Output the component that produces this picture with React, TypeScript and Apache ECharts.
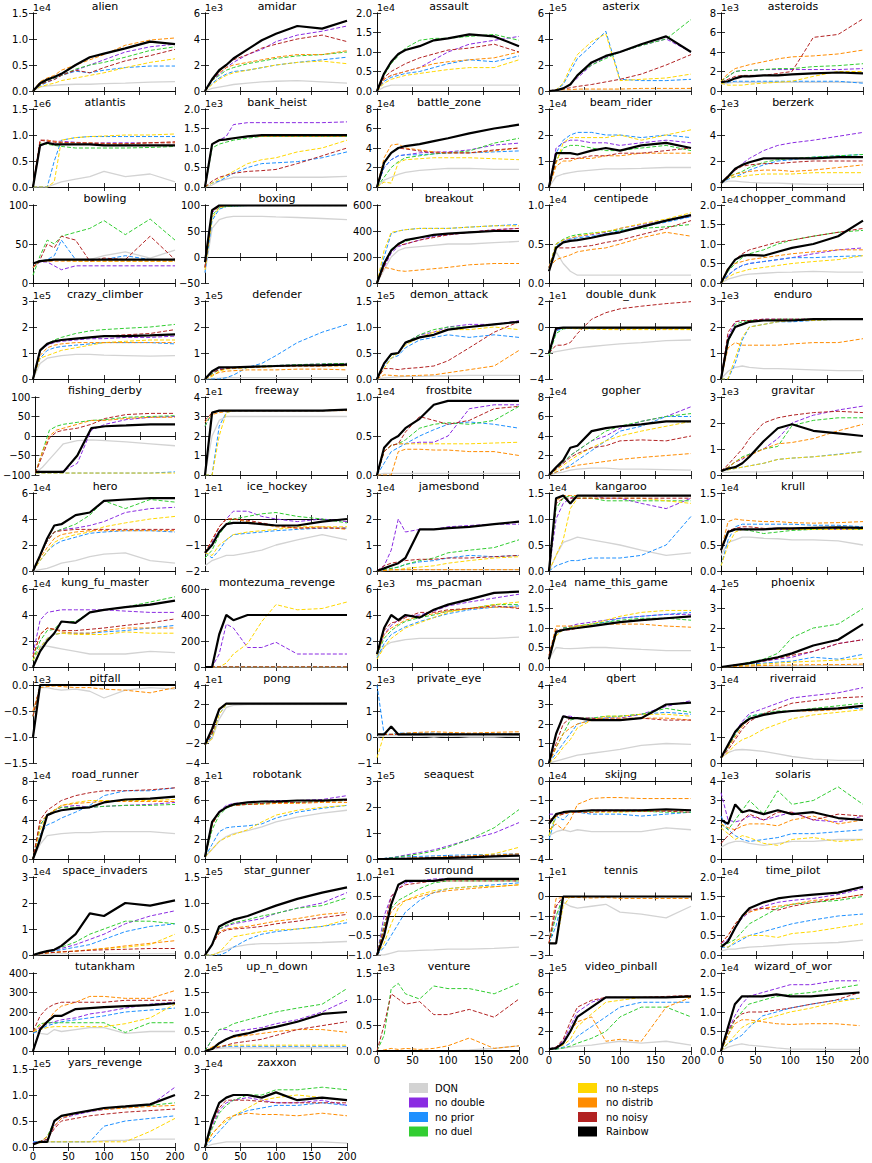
import React, { useEffect, useRef } from 'react';
import * as echarts from 'echarts';

const FONT = 'DejaVu Sans';
const X = [0, 10, 20, 30, 40, 60, 80, 100, 130, 165, 200];
const SERIES = ['DQN', 'no double', 'no prior', 'no duel', 'no n-steps', 'no distrib', 'no noisy', 'Rainbow'];
const COLORS = ['#d3d3d3', '#8a2be2', '#1e90ff', '#32cd32', '#ffd700', '#ff8c00', '#b22222', '#000000'];

// series order in every game: DQN, no double, no prior, no duel, no n-steps, no distrib, no noisy, Rainbow
const alien = [
  [0, 0.08, 0.1, 0.11, 0.12, 0.13, 0.13, 0.14, 0.15, 0.17, 0.18],
  [0, 0.12, 0.2, 0.25, 0.32, 0.4, 0.5, 0.6, 0.75, 0.85, 0.9],
  [0, 0.1, 0.17, 0.22, 0.3, 0.38, 0.35, 0.4, 0.45, 0.48, 0.48],
  [0, 0.12, 0.2, 0.25, 0.3, 0.42, 0.5, 0.55, 0.65, 0.78, 0.85],
  [0, 0.08, 0.12, 0.15, 0.2, 0.25, 0.3, 0.35, 0.45, 0.55, 0.62],
  [0, 0.18, 0.25, 0.3, 0.4, 0.5, 0.6, 0.7, 0.88, 0.98, 1.02],
  [0, 0.12, 0.18, 0.22, 0.3, 0.4, 0.35, 0.45, 0.58, 0.68, 0.8],
  [0, 0.15, 0.22, 0.27, 0.33, 0.5, 0.65, 0.72, 0.82, 0.95, 0.9],
];
const amidar = [
  [0, 0.2, 0.3, 0.4, 0.5, 0.6, 0.7, 0.75, 0.8, 0.7, 0.6],
  [0, 0.8, 1.3, 1.8, 2.2, 2.8, 3.2, 3.8, 4.3, 4.6, 5.0],
  [0, 0.6, 1.0, 1.3, 1.5, 1.6, 1.8, 2.0, 2.2, 2.4, 2.6],
  [0, 0.8, 1.2, 1.6, 1.8, 2.1, 2.3, 2.5, 2.7, 2.8, 3.0],
  [0, 0.5, 0.9, 1.2, 1.4, 1.6, 1.8, 2.0, 2.2, 2.3, 2.1],
  [0, 0.9, 1.4, 1.8, 2.0, 2.2, 2.4, 2.6, 2.8, 2.8, 3.1],
  [0, 0.8, 1.5, 2.0, 2.4, 2.8, 3.3, 3.6, 4.0, 4.3, 3.8],
  [0, 0.9, 1.6, 2.0, 2.5, 3.2, 3.9, 4.4, 5.0, 4.8, 5.4],
];
const assault = [
  [0, 0.1, 0.15, 0.15, 0.15, 0.15, 0.15, 0.15, 0.15, 0.15, 0.15],
  [0, 0.3, 0.4, 0.45, 0.5, 0.6, 0.8, 1.0, 1.2, 1.3, 1.4],
  [0, 0.25, 0.35, 0.4, 0.45, 0.5, 0.6, 0.7, 0.8, 0.75, 0.9],
  [0, 0.4, 0.7, 0.9, 1.1, 1.3, 1.35, 1.35, 1.4, 1.45, 1.3],
  [0, 0.2, 0.3, 0.35, 0.4, 0.45, 0.5, 0.55, 0.6, 0.6, 0.8],
  [0, 0.3, 0.4, 0.45, 0.5, 0.6, 0.7, 0.75, 0.8, 0.85, 1.0],
  [0, 0.35, 0.5, 0.6, 0.7, 0.85, 0.95, 1.05, 1.1, 1.2, 1.0],
  [0, 0.45, 0.75, 0.95, 1.05, 1.15, 1.3, 1.35, 1.45, 1.4, 1.15],
];
const asterix = [
  [0, 0.02, 0.05, 0.05, 0.05, 0.05, 0.05, 0.05, 0.05, 0.05, 0.05],
  [0, 0, 0.2, 0.5, 1.0, 2.0, 2.6, 3.0, 3.5, 4.0, 3.0],
  [0, 0.1, 0.5, 1.5, 2.5, 3.5, 4.6, 0.9, 0.8, 0.8, 0.9],
  [0, 0, 0.2, 0.5, 1.2, 2.0, 2.5, 3.0, 3.5, 4.0, 5.5],
  [0, 0.1, 0.6, 1.8, 2.8, 3.8, 4.4, 0.8, 0.9, 1.0, 1.3],
  [0, 0.05, 0.1, 0.1, 0.15, 0.15, 0.15, 0.15, 0.2, 0.2, 0.2],
  [0, 0.1, 0.15, 0.25, 0.35, 0.5, 0.7, 0.9, 1.3, 2.0, 2.8],
  [0, 0.05, 0.2, 0.5, 1.2, 2.2, 2.7, 3.0, 3.6, 4.2, 3.0],
];
const asteroids = [
  [0.7, 0.8, 0.9, 0.9, 0.9, 0.9, 0.9, 0.9, 0.9, 0.9, 0.9],
  [1.0, 1.5, 2.0, 2.1, 2.1, 2.2, 2.2, 2.2, 2.2, 2.2, 2.3],
  [0.8, 0.9, 1.0, 1.0, 1.0, 1.0, 1.0, 1.0, 1.0, 1.0, 0.8],
  [1.0, 1.5, 2.0, 2.1, 2.1, 2.2, 2.3, 2.3, 2.5, 2.6, 2.8],
  [0.8, 0.6, 0.6, 0.6, 0.7, 0.8, 0.9, 1.0, 1.5, 2.0, 2.0],
  [1.0, 1.8, 2.3, 2.5, 2.7, 3.0, 3.3, 3.5, 3.6, 3.8, 4.2],
  [0.9, 1.2, 1.5, 1.6, 1.6, 1.6, 1.8, 2.0, 5.5, 5.8, 7.4],
  [0.9, 1.0, 1.3, 1.5, 1.5, 1.6, 1.6, 1.7, 1.8, 1.9, 1.8],
];
const atlantis = [
  [0, 0, 0, 0.05, 0.1, 0.15, 0.2, 0.3, 0.2, 0.25, 0.1],
  [0, 0.9, 0.9, 0.88, 0.88, 0.86, 0.85, 0.85, 0.85, 0.85, 0.85],
  [0, 0, 0, 0.5, 0.9, 0.95, 0.97, 0.97, 0.97, 0.97, 0.97],
  [0, 0.85, 0.82, 0.8, 0.78, 0.75, 0.75, 0.75, 0.75, 0.76, 0.78],
  [0, 0, 0, 0.1, 0.9, 0.95, 0.97, 0.98, 1.0, 1.0, 1.02],
  [0, 0.9, 0.9, 0.88, 0.86, 0.85, 0.85, 0.84, 0.83, 0.85, 0.85],
  [0, 0.9, 0.88, 0.86, 0.85, 0.85, 0.84, 0.83, 0.83, 0.85, 0.87],
  [0, 0.8, 0.85, 0.82, 0.82, 0.82, 0.82, 0.8, 0.8, 0.8, 0.8],
];
const bank_heist = [
  [0, 0.05, 0.15, 0.2, 0.25, 0.25, 0.25, 0.25, 0.25, 0.25, 0.27],
  [0, 1.1, 1.2, 1.3, 1.6, 1.65, 1.65, 1.65, 1.65, 1.65, 1.67],
  [0, 0.1, 0.15, 0.25, 0.35, 0.5, 0.6, 0.62, 0.65, 0.75, 0.9],
  [0, 1.0, 1.1, 1.15, 1.2, 1.25, 1.3, 1.3, 1.3, 1.3, 1.3],
  [0, 0.1, 0.2, 0.3, 0.4, 0.6, 0.7, 0.75, 0.9, 1.0, 1.2],
  [0, 1.1, 1.2, 1.22, 1.25, 1.3, 1.3, 1.3, 1.3, 1.3, 1.3],
  [0, 0.15, 0.25, 0.3, 0.35, 0.4, 0.42, 0.45, 0.6, 0.8, 1.0],
  [0, 1.1, 1.2, 1.22, 1.25, 1.3, 1.33, 1.33, 1.33, 1.33, 1.33],
];
const battle_zone = [
  [0, 0.7, 1.0, 1.3, 1.5, 1.7, 1.8, 1.9, 1.9, 1.8, 1.8],
  [0, 2.0, 2.8, 3.2, 3.3, 3.5, 3.6, 3.6, 3.8, 4.3, 4.5],
  [0, 2.0, 2.8, 3.2, 3.3, 3.3, 3.4, 3.5, 3.5, 3.6, 3.7],
  [0, 1.0, 2.0, 2.6, 3.0, 3.2, 3.4, 3.5, 3.7, 4.5, 5.0],
  [0, 0.5, 0.4, 2.5, 2.8, 2.9, 3.0, 3.0, 3.0, 2.9, 2.8],
  [0, 3.0, 4.3, 4.4, 4.0, 3.8, 3.6, 3.5, 3.5, 3.7, 4.0],
  [0, 2.5, 3.5, 4.0, 3.9, 3.7, 3.5, 3.5, 3.5, 3.8, 4.0],
  [0, 2.5, 3.5, 4.0, 4.2, 4.4, 4.7, 5.0, 5.5, 6.0, 6.4],
];
const beam_rider = [
  [0, 0.4, 0.5, 0.55, 0.6, 0.65, 0.7, 0.7, 0.72, 0.75, 0.75],
  [0, 1.5, 1.7, 1.8, 1.8, 1.7, 1.7, 1.6, 1.7, 1.8, 1.7],
  [0, 1.3, 1.8, 2.0, 2.1, 2.1, 2.0, 2.0, 1.9, 2.0, 1.9],
  [0, 1.0, 1.5, 1.6, 1.6, 1.5, 1.4, 1.4, 1.5, 1.6, 1.4],
  [0, 0.9, 1.7, 1.9, 1.9, 1.9, 1.9, 2.0, 1.8, 2.0, 2.2],
  [0, 0.8, 1.0, 1.0, 1.1, 1.1, 1.2, 1.2, 1.3, 1.3, 1.3],
  [0, 1.0, 1.1, 1.1, 1.1, 1.2, 1.2, 1.3, 1.3, 1.4, 1.5],
  [0, 1.3, 1.3, 1.3, 1.25, 1.4, 1.5, 1.4, 1.6, 1.7, 1.5],
];
const berzerk = [
  [0.3, 0.45, 0.45, 0.4, 0.35, 0.3, 0.3, 0.25, 0.2, 0.2, 0.2],
  [0.3, 0.8, 1.3, 1.8, 2.2, 2.8, 3.2, 3.4, 3.6, 3.9, 4.2],
  [0.3, 0.6, 0.8, 1.0, 1.3, 1.7, 2.0, 2.1, 2.3, 2.4, 2.5],
  [0.3, 0.8, 1.0, 1.2, 1.5, 1.9, 2.1, 2.2, 2.3, 2.4, 2.5],
  [0.3, 0.7, 0.8, 0.8, 0.9, 1.0, 1.0, 1.0, 1.1, 1.1, 1.1],
  [0.3, 0.7, 1.0, 1.1, 1.2, 1.3, 1.3, 1.2, 1.3, 1.5, 1.7],
  [0.3, 0.9, 1.3, 1.6, 1.7, 1.8, 1.8, 1.9, 2.0, 2.0, 2.0],
  [0.3, 0.8, 1.4, 1.7, 1.9, 2.2, 2.2, 2.2, 2.2, 2.3, 2.3],
];
const bowling = [
  [20, 28, 30, 30, 30, 30, 30, 35, 40, 32, 42],
  [20, 27, 27, 22, 17, 22, 22, 22, 22, 22, 22],
  [20, 28, 30, 35, 55, 30, 30, 30, 35, 30, 30],
  [10, 35, 55, 50, 60, 65, 70, 80, 62, 82, 55],
  [20, 28, 28, 30, 30, 28, 28, 28, 28, 28, 28],
  [20, 28, 28, 28, 28, 28, 28, 28, 28, 28, 28],
  [20, 30, 50, 45, 60, 55, 28, 32, 30, 60, 30],
  [25, 28, 29, 30, 30, 30, 30, 30, 30, 30, 30],
];
const boxing = [
  [-30, 55, 72, 76, 78, 78, 78, 77, 76, 74, 72],
  [-20, 85, 97, 99, 99, 99, 99, 99, 99, 99, 99],
  [-30, 70, 92, 97, 98, 99, 99, 99, 99, 99, 99],
  [-20, 80, 95, 97, 98, 99, 99, 99, 99, 99, 99],
  [-25, 75, 95, 98, 99, 99, 99, 99, 99, 99, 99],
  [-20, 88, 97, 99, 99, 99, 99, 99, 99, 99, 99],
  [-20, 88, 98, 99, 99, 99, 99, 99, 99, 99, 99],
  [-10, 90, 99, 99, 99, 99, 99, 99, 99, 99, 99],
];
const breakout = [
  [0, 100, 200, 250, 270, 280, 290, 300, 300, 310, 320],
  [0, 120, 230, 280, 300, 330, 360, 370, 390, 410, 420],
  [0, 200, 380, 400, 410, 420, 420, 420, 430, 440, 450],
  [0, 150, 260, 300, 320, 350, 370, 380, 390, 400, 400],
  [0, 250, 390, 400, 410, 420, 420, 420, 430, 440, 440],
  [0, 120, 110, 95, 90, 100, 110, 120, 140, 150, 150],
  [0, 130, 250, 290, 300, 330, 350, 370, 390, 410, 420],
  [0, 150, 250, 300, 330, 350, 370, 380, 390, 400, 400],
];
const centipede = [
  [0.15, 0.4, 0.25, 0.15, 0.1, 0.1, 0.1, 0.1, 0.1, 0.1, 0.1],
  [0.2, 0.5, 0.55, 0.57, 0.6, 0.62, 0.65, 0.7, 0.75, 0.8, 0.85],
  [0.2, 0.48, 0.53, 0.56, 0.58, 0.6, 0.63, 0.67, 0.72, 0.78, 0.85],
  [0.2, 0.5, 0.56, 0.6, 0.62, 0.64, 0.66, 0.68, 0.7, 0.72, 0.75],
  [0.2, 0.5, 0.55, 0.58, 0.6, 0.63, 0.66, 0.7, 0.76, 0.82, 0.9],
  [0.2, 0.3, 0.33, 0.36, 0.4, 0.43, 0.45, 0.5, 0.58, 0.65, 0.6],
  [0.2, 0.45, 0.45, 0.45, 0.46, 0.48, 0.52, 0.55, 0.62, 0.7, 0.8],
  [0.15, 0.45, 0.52, 0.54, 0.55, 0.58, 0.62, 0.65, 0.72, 0.8, 0.87],
];
const chopper_command = [
  [0, 0.1, 0.15, 0.2, 0.23, 0.25, 0.27, 0.28, 0.3, 0.28, 0.28],
  [0, 0.2, 0.35, 0.45, 0.5, 0.55, 0.6, 0.65, 0.75, 0.85, 0.9],
  [0, 0.2, 0.35, 0.45, 0.5, 0.55, 0.6, 0.65, 0.65, 0.68, 0.7],
  [0, 0.3, 0.5, 0.65, 0.75, 0.85, 1.0, 1.1, 1.2, 1.3, 1.35],
  [0, 0.15, 0.25, 0.3, 0.35, 0.4, 0.45, 0.5, 0.55, 0.6, 0.7],
  [0, 0.4, 0.5, 0.55, 0.6, 0.65, 0.7, 0.75, 0.8, 0.85, 0.85],
  [0, 0.35, 0.6, 0.75, 0.85, 0.95, 1.05, 1.1, 1.2, 1.3, 1.4],
  [0, 0.35, 0.6, 0.7, 0.72, 0.7, 0.8, 0.9, 1.0, 1.2, 1.6],
];
const crazy_climber = [
  [0, 0.6, 0.8, 0.85, 0.9, 0.95, 0.95, 0.92, 0.9, 0.88, 0.9],
  [0, 1.1, 1.3, 1.4, 1.45, 1.5, 1.55, 1.55, 1.6, 1.6, 1.65],
  [0, 0.8, 1.1, 1.2, 1.25, 1.3, 1.35, 1.4, 1.4, 1.4, 1.35],
  [0, 1.1, 1.35, 1.5, 1.6, 1.75, 1.85, 1.9, 1.95, 2.0, 2.1],
  [0, 0.8, 0.9, 1.0, 1.1, 1.2, 1.3, 1.4, 1.45, 1.5, 1.5],
  [0, 0.9, 1.2, 1.3, 1.35, 1.4, 1.4, 1.4, 1.4, 1.4, 1.4],
  [0, 1.1, 1.35, 1.45, 1.5, 1.55, 1.6, 1.65, 1.7, 1.75, 1.9],
  [0, 1.1, 1.35, 1.45, 1.5, 1.55, 1.6, 1.65, 1.65, 1.68, 1.72],
];
const defender = [
  [0, 0.02, 0.03, 0.05, 0.05, 0.05, 0.05, 0.05, 0.05, 0.05, 0.05],
  [0, 0.2, 0.4, 0.45, 0.45, 0.47, 0.5, 0.52, 0.55, 0.58, 0.6],
  [0, 0, 0, 0.05, 0.15, 0.45, 0.6, 0.9, 1.4, 1.8, 2.1],
  [0, 0.2, 0.35, 0.4, 0.45, 0.47, 0.5, 0.52, 0.55, 0.58, 0.6],
  [0, 0.1, 0.3, 0.38, 0.4, 0.43, 0.45, 0.48, 0.5, 0.5, 0.5],
  [0, 0.15, 0.25, 0.3, 0.32, 0.35, 0.35, 0.35, 0.38, 0.38, 0.35],
  [0, 0.25, 0.35, 0.4, 0.42, 0.45, 0.47, 0.48, 0.5, 0.5, 0.52],
  [0, 0.3, 0.45, 0.45, 0.45, 0.47, 0.48, 0.5, 0.52, 0.53, 0.55],
];
const demon_attack = [
  [0, 0.02, 0.03, 0.04, 0.05, 0.05, 0.06, 0.06, 0.07, 0.07, 0.07],
  [0, 0.3, 0.45, 0.5, 0.7, 0.85, 0.9, 1.0, 1.05, 1.05, 1.12],
  [0, 0.25, 0.4, 0.45, 0.6, 0.75, 0.8, 0.85, 0.8, 0.85, 0.8],
  [0, 0.3, 0.45, 0.5, 0.7, 0.85, 0.95, 1.0, 1.0, 1.05, 1.1],
  [0, 0.2, 0.4, 0.5, 0.65, 0.8, 0.9, 0.95, 0.95, 1.0, 0.95],
  [0, 0.08, 0.07, 0.06, 0.06, 0.07, 0.08, 0.12, 0.18, 0.25, 0.55],
  [0, 0.2, 0.2, 0.18, 0.2, 0.22, 0.25, 0.35, 0.6, 0.9, 1.1],
  [0, 0.3, 0.48, 0.5, 0.7, 0.8, 0.85, 0.95, 1.0, 1.05, 1.1],
];
const double_dunk = [
  [-2, -1.9, -1.8, -1.7, -1.6, -1.5, -1.4, -1.3, -1.2, -1.05, -1.0],
  [-2, -0.2, -0.1, -0.1, -0.1, -0.1, -0.1, -0.15, -0.1, -0.15, -0.1],
  [-2, -0.3, -0.1, -0.1, -0.1, -0.1, -0.1, -0.1, -0.1, -0.1, -0.1],
  [-2.2, -0.5, -0.15, -0.1, -0.1, -0.1, -0.1, -0.1, -0.1, -0.1, -0.1],
  [-2, -0.1, -0.1, -0.1, -0.15, -0.15, -0.2, -0.2, -0.2, -0.2, -0.2],
  [-2, -0.1, -0.05, -0.05, -0.05, -0.05, -0.1, -0.1, -0.1, -0.1, -0.1],
  [-2, -1.4, -1.4, -1.2, -0.5, 0.6, 1.1, 1.4, 1.6, 1.8, 1.95],
  [-2, -0.1, -0.05, -0.05, -0.05, -0.05, -0.05, -0.05, -0.05, -0.05, -0.05],
];
const enduro = [
  [0, 0.3, 0.45, 0.5, 0.45, 0.4, 0.4, 0.38, 0.35, 0.32, 0.32],
  [0, 1.6, 2.2, 2.25, 2.25, 2.3, 2.3, 2.3, 2.3, 2.3, 2.3],
  [0, 0, 0.6, 1.5, 2.0, 2.1, 2.2, 2.2, 2.25, 2.3, 2.3],
  [0, 1.4, 2.1, 2.2, 2.25, 2.25, 2.3, 2.3, 2.3, 2.3, 2.3],
  [0, 0, 0.8, 1.6, 2.0, 2.1, 2.2, 2.25, 2.25, 2.3, 2.3],
  [0, 1.2, 1.4, 1.3, 1.3, 1.3, 1.3, 1.35, 1.4, 1.4, 1.55],
  [0, 1.8, 2.2, 2.25, 2.25, 2.3, 2.3, 2.3, 2.3, 2.3, 2.3],
  [0, 1.5, 2.0, 2.1, 2.2, 2.25, 2.25, 2.25, 2.3, 2.3, 2.3],
];
const fishing_derby = [
  [-95, -80, -60, -40, -20, -12, -10, -12, -15, -20, -25],
  [-92, -92, -92, -92, -90, -70, 15, 30, 42, 48, 50],
  [-95, -95, -95, -95, -95, -95, -95, -95, -95, -95, -92],
  [-95, -40, 15, 25, 30, 35, 40, 42, 48, 50, 52],
  [-95, -95, -95, -95, -95, -95, -95, -95, -95, -95, -95],
  [-95, -40, 0, 15, 20, 30, 40, 40, 45, 48, 48],
  [-95, -50, -5, 10, 15, 20, 30, 45, 55, 58, 58],
  [-92, -92, -92, -92, -92, -50, 20, 25, 27, 30, 30],
];
const freeway = [
  [0, 2.0, 2.8, 3.0, 3.0, 3.0, 3.0, 3.0, 3.0, 3.0, 3.0],
  [2.5, 3.2, 3.3, 3.3, 3.3, 3.3, 3.3, 3.3, 3.3, 3.3, 3.35],
  [0, 0, 2.5, 3.2, 3.3, 3.3, 3.3, 3.3, 3.3, 3.3, 3.35],
  [2.5, 3.2, 3.3, 3.3, 3.3, 3.3, 3.3, 3.3, 3.3, 3.3, 3.35],
  [0, 0, 2.0, 3.2, 3.3, 3.3, 3.3, 3.3, 3.3, 3.3, 3.35],
  [2.7, 3.1, 3.2, 3.25, 3.3, 3.3, 3.3, 3.3, 3.3, 3.3, 3.3],
  [2.8, 3.2, 3.3, 3.3, 3.3, 3.3, 3.3, 3.3, 3.3, 3.3, 3.35],
  [0, 3.2, 3.3, 3.3, 3.3, 3.3, 3.3, 3.3, 3.3, 3.3, 3.35],
];
const frostbite = [
  [0, 0.02, 0.02, 0.02, 0.02, 0.02, 0.02, 0.02, 0.02, 0.02, 0.02],
  [0, 0.3, 0.38, 0.4, 0.4, 0.42, 0.42, 0.5, 0.85, 0.9, 0.9],
  [0, 0.15, 0.3, 0.35, 0.4, 0.5, 0.58, 0.65, 0.68, 0.65, 0.6],
  [0, 0.3, 0.38, 0.4, 0.45, 0.6, 0.65, 0.67, 0.65, 0.7, 0.88],
  [0, 0.3, 0.38, 0.4, 0.4, 0.4, 0.4, 0.4, 0.4, 0.41, 0.42],
  [0, 0, 0, 0.3, 0.33, 0.33, 0.32, 0.32, 0.3, 0.3, 0.25],
  [0, 0.3, 0.38, 0.4, 0.55, 0.75, 0.7, 0.65, 0.7, 0.85, 0.88],
  [0, 0.35, 0.45, 0.5, 0.6, 0.72, 0.9, 0.95, 0.95, 0.95, 0.95],
];
const gopher = [
  [0, 0.2, 0.3, 0.5, 0.6, 0.7, 0.7, 0.6, 0.6, 0.55, 0.5],
  [0, 0.7, 1.2, 2.0, 2.5, 3.5, 4.0, 4.8, 5.5, 6.0, 7.0],
  [0, 0.3, 0.6, 1.0, 1.5, 2.5, 3.5, 4.5, 5.0, 6.0, 6.0],
  [0, 0.7, 1.3, 2.0, 2.5, 3.5, 4.5, 5.0, 5.5, 6.0, 6.3],
  [0, 0.5, 1.0, 1.5, 2.0, 2.8, 3.5, 4.0, 4.5, 5.0, 5.5],
  [0, 0.3, 0.6, 0.8, 1.0, 1.2, 1.4, 1.6, 1.8, 2.0, 2.2],
  [0, 0.6, 1.2, 1.8, 2.2, 2.8, 3.0, 3.5, 3.6, 3.5, 4.0],
  [0, 0.8, 1.5, 2.8, 3.0, 4.5, 4.8, 5.0, 5.2, 5.5, 5.5],
];
const gravitar = [
  [0.1, 0.1, 0.12, 0.12, 0.12, 0.12, 0.15, 0.15, 0.15, 0.15, 0.15],
  [0.15, 0.3, 0.5, 0.6, 0.8, 1.0, 1.4, 2.0, 2.3, 2.5, 2.65],
  [0.15, 0.2, 0.25, 0.3, 0.35, 0.45, 0.6, 0.65, 0.7, 0.8, 0.9],
  [0.15, 0.3, 0.5, 0.7, 0.8, 1.0, 1.1, 1.9, 2.1, 2.2, 2.2],
  [0.15, 0.2, 0.25, 0.3, 0.35, 0.45, 0.6, 0.65, 0.7, 0.78, 0.9],
  [0.15, 0.3, 0.5, 0.65, 0.75, 1.0, 1.2, 1.25, 1.4, 1.7, 1.95],
  [0.15, 0.4, 0.7, 1.0, 1.4, 2.0, 2.2, 2.3, 2.4, 2.45, 2.4],
  [0.15, 0.25, 0.3, 0.45, 0.7, 1.3, 1.8, 1.95, 1.7, 1.6, 1.5],
];
const hero = [
  [0, 0.1, 0.2, 0.4, 0.6, 0.8, 1.1, 1.3, 1.4, 0.8, 0.6],
  [0, 1.2, 2.3, 3.0, 3.2, 3.3, 3.5, 3.8, 4.5, 4.8, 4.9],
  [0, 0.8, 1.5, 2.0, 2.3, 2.6, 2.9, 3.0, 3.1, 3.1, 3.0],
  [0, 1.2, 2.3, 3.0, 3.2, 3.6, 4.3, 5.4, 4.8, 5.5, 5.3],
  [0, 0.8, 1.5, 2.2, 2.5, 2.8, 3.0, 3.4, 3.7, 4.0, 4.2],
  [0, 1.0, 1.8, 2.5, 2.8, 3.0, 3.1, 3.1, 3.1, 3.1, 3.1],
  [0, 1.2, 2.3, 3.0, 3.1, 3.2, 3.2, 3.2, 3.2, 3.2, 3.2],
  [0, 1.2, 2.5, 3.5, 3.6, 4.3, 4.5, 5.4, 5.5, 5.6, 5.6],
];
const ice_hockey = [
  [-1.8, -1.6, -1.5, -1.4, -1.4, -1.3, -1.2, -1.0, -0.8, -0.6, -0.8],
  [-1.3, -0.9, -0.3, 0.0, 0.3, 0.3, 0.1, 0.0, -0.1, 0.0, -0.1],
  [-1.3, -1.5, -1.2, -0.8, -0.6, -0.55, -0.5, -0.45, -0.4, -0.35, -0.35],
  [-1.5, -1.2, -0.6, -0.2, 0.0, 0.1, 0.2, 0.25, 0.1, 0.0, -0.15],
  [-1.3, -1.4, -1.0, -0.8, -0.6, -0.5, -0.45, -0.4, -0.3, -0.3, -0.3],
  [-1.3, -0.8, -0.3, 0.0, 0.0, -0.1, -0.2, -0.3, -0.35, -0.3, -0.4],
  [-1.3, -0.8, -0.3, 0.0, 0.0, -0.05, -0.15, -0.25, -0.35, -0.35, -0.35],
  [-1.3, -1.0, -0.5, -0.2, -0.15, -0.15, -0.2, -0.25, -0.25, -0.1, 0.0],
];
const jamesbond = [
  [0, 0.02, 0.03, 0.04, 0.05, 0.05, 0.05, 0.05, 0.05, 0.05, 0.05],
  [0, 0.2, 0.8, 2.0, 1.5, 1.6, 1.6, 1.7, 1.75, 1.8, 1.8],
  [0, 0.05, 0.1, 0.15, 0.25, 0.35, 0.4, 0.5, 0.6, 0.55, 0.6],
  [0, 0.05, 0.1, 0.15, 0.25, 0.4, 0.5, 0.7, 0.8, 0.9, 1.2],
  [0, 0.02, 0.05, 0.05, 0.1, 0.15, 0.2, 0.3, 0.4, 0.5, 0.55],
  [0, 0.02, 0.05, 0.05, 0.05, 0.05, 0.05, 0.05, 0.05, 0.05, 0.05],
  [0, 0.2, 0.3, 0.35, 0.4, 0.45, 0.45, 0.5, 0.5, 0.55, 0.6],
  [0, 0.1, 0.2, 0.3, 0.5, 1.6, 1.6, 1.65, 1.7, 1.8, 1.9],
];
const kangaroo = [
  [0, 0.3, 0.55, 0.6, 0.65, 0.6, 0.55, 0.5, 0.4, 0.3, 0.35],
  [0, 1.0, 1.3, 1.4, 1.45, 1.45, 1.4, 1.4, 1.3, 1.2, 1.4],
  [0, 0.1, 0.15, 0.2, 0.2, 0.25, 0.25, 0.25, 0.3, 0.5, 1.05],
  [0, 1.2, 1.4, 1.45, 1.4, 1.4, 1.35, 1.35, 1.35, 1.35, 1.35],
  [0, 0.3, 0.6, 1.2, 1.4, 1.4, 1.4, 1.4, 1.4, 1.35, 1.3],
  [0, 1.35, 1.45, 1.45, 1.45, 1.45, 1.45, 1.45, 1.45, 1.45, 1.45],
  [0, 1.3, 1.4, 1.4, 1.4, 1.4, 1.4, 1.4, 1.4, 1.4, 1.4],
  [0, 1.4, 1.45, 1.3, 1.45, 1.45, 1.45, 1.45, 1.45, 1.45, 1.45],
];
const krull = [
  [0.3, 0.55, 0.6, 0.65, 0.65, 0.63, 0.62, 0.6, 0.6, 0.58, 0.5],
  [0.4, 0.75, 0.8, 0.82, 0.8, 0.8, 0.8, 0.8, 0.8, 0.8, 0.8],
  [0.1, 0.6, 0.85, 0.9, 0.9, 0.9, 0.9, 0.9, 0.88, 0.88, 0.85],
  [0.4, 0.75, 0.8, 0.8, 0.78, 0.72, 0.75, 0.78, 0.8, 0.82, 0.8],
  [0.1, 0.5, 0.75, 0.8, 0.8, 0.8, 0.8, 0.8, 0.8, 0.8, 0.8],
  [0.4, 0.95, 1.0, 0.98, 0.97, 0.95, 0.95, 0.93, 0.92, 0.93, 0.95],
  [0.4, 0.78, 0.82, 0.85, 0.85, 0.82, 0.82, 0.82, 0.83, 0.83, 0.83],
  [0.4, 0.75, 0.8, 0.8, 0.8, 0.8, 0.82, 0.82, 0.83, 0.84, 0.83],
];
const kung_fu_master = [
  [1.2, 1.6, 1.6, 1.5, 1.4, 1.2, 1.0, 1.0, 1.0, 1.2, 1.1],
  [1.0, 3.6, 4.2, 4.3, 4.4, 4.4, 4.4, 4.4, 4.3, 4.2, 4.2],
  [0.5, 1.5, 2.2, 2.5, 2.6, 2.6, 2.6, 2.7, 2.8, 3.0, 3.2],
  [0.5, 2.0, 2.8, 2.9, 3.5, 3.5, 4.2, 4.4, 4.6, 5.0, 5.4],
  [0.5, 1.5, 2.2, 2.5, 2.6, 2.5, 2.5, 2.5, 2.7, 2.6, 2.6],
  [0.8, 2.5, 3.0, 2.9, 2.7, 2.6, 2.6, 2.8, 3.0, 3.0, 3.0],
  [0.8, 2.5, 3.0, 2.9, 2.8, 2.8, 2.9, 3.0, 3.2, 3.4, 3.7],
  [0, 1.2, 2.0, 2.6, 3.5, 3.4, 4.2, 4.4, 4.6, 4.8, 5.1],
];
const montezuma_revenge = [
  [0, 0, 0, 0, 0, 0, 0, 0, 0, 0, 0],
  [0, 0, 100, 330, 300, 150, 150, 190, 100, 100, 100],
  [0, 0, 0, 0, 0, 0, 0, 0, 0, 0, 0],
  [0, 0, 0, 0, 0, 0, 0, 0, 0, 0, 0],
  [0, 0, 0, 30, 100, 180, 350, 480, 440, 450, 500],
  [0, 0, 0, 0, 0, 0, 0, 0, 0, 0, 0],
  [0, 0, 0, 0, 0, 0, 0, 0, 0, 0, 0],
  [0, 0, 250, 400, 360, 400, 400, 400, 400, 400, 400],
];
const ms_pacman = [
  [0.8, 1.6, 1.9, 2.0, 2.1, 2.2, 2.2, 2.2, 2.2, 2.2, 2.3],
  [1.0, 2.5, 3.2, 3.6, 3.9, 4.0, 4.3, 4.7, 5.0, 5.3, 5.6],
  [0.7, 1.8, 2.5, 2.8, 3.1, 3.5, 3.8, 4.1, 4.4, 4.6, 4.7],
  [0.9, 2.2, 2.8, 3.2, 3.5, 3.8, 4.0, 4.3, 4.5, 4.8, 4.8],
  [0.6, 1.5, 2.2, 2.6, 3.0, 3.4, 3.8, 4.2, 4.5, 4.8, 5.0],
  [0.9, 2.5, 3.0, 3.3, 3.6, 3.9, 4.1, 4.3, 4.5, 4.6, 4.6],
  [1.0, 2.8, 3.4, 3.5, 3.8, 4.2, 4.2, 4.4, 4.5, 4.7, 4.5],
  [1.0, 3.0, 4.0, 3.6, 4.0, 3.8, 4.4, 4.8, 5.2, 5.7, 5.8],
];
const name_this_game = [
  [0.2, 0.5, 0.48, 0.47, 0.48, 0.5, 0.5, 0.48, 0.45, 0.42, 0.42],
  [0.2, 0.9, 1.0, 1.05, 1.1, 1.15, 1.2, 1.25, 1.3, 1.35, 1.35],
  [0.2, 0.85, 0.95, 1.0, 1.05, 1.1, 1.15, 1.25, 1.3, 1.35, 1.4],
  [0.2, 0.9, 1.0, 1.02, 1.05, 1.1, 1.15, 1.2, 1.25, 1.25, 1.2],
  [0.2, 0.8, 0.95, 1.0, 1.05, 1.1, 1.2, 1.3, 1.4, 1.45, 1.45],
  [0.3, 1.05, 1.05, 1.05, 1.05, 1.05, 1.1, 1.1, 1.1, 1.05, 1.02],
  [0.3, 0.95, 0.95, 0.95, 1.0, 1.05, 1.1, 1.15, 1.2, 1.25, 1.3],
  [0.2, 0.9, 0.95, 0.98, 1.0, 1.05, 1.1, 1.15, 1.2, 1.25, 1.3],
];
const phoenix = [
  [0, 0.02, 0.03, 0.04, 0.05, 0.05, 0.05, 0.06, 0.07, 0.08, 0.08],
  [0, 0.05, 0.1, 0.15, 0.2, 0.3, 0.4, 0.5, 0.8, 1.2, 1.4],
  [0, 0.05, 0.08, 0.1, 0.15, 0.2, 0.25, 0.3, 0.5, 0.4, 0.65],
  [0, 0.05, 0.1, 0.15, 0.25, 0.4, 0.7, 1.5, 2.0, 2.2, 3.0],
  [0, 0.02, 0.05, 0.08, 0.1, 0.15, 0.2, 0.25, 0.3, 0.35, 0.45],
  [0, 0.02, 0.03, 0.04, 0.05, 0.08, 0.1, 0.1, 0.12, 0.12, 0.15],
  [0, 0.05, 0.1, 0.15, 0.2, 0.3, 0.45, 0.6, 0.8, 1.2, 1.4],
  [0, 0.05, 0.1, 0.15, 0.2, 0.35, 0.5, 0.7, 1.1, 1.4, 2.2],
];
const pitfall = [
  [-0.5, -0.05, -0.05, -0.08, -0.1, -0.08, -0.12, -0.25, -0.1, -0.05, -0.08],
  [-0.6, 0, 0, 0, 0, 0, 0, 0, 0, 0, 0],
  [-0.6, -0.02, 0, 0, 0, 0, 0, 0, 0, 0, 0],
  [-0.6, 0, 0, 0, 0, 0, 0, 0, 0, 0, 0],
  [-0.6, 0, 0, 0, 0, 0, 0, 0, 0, 0, 0],
  [-0.5, -0.05, -0.03, -0.02, -0.03, -0.05, -0.05, -0.08, -0.1, -0.15, -0.05],
  [-0.6, 0, 0, 0, 0, 0, 0, 0, 0, 0, 0],
  [-1.0, 0, 0, 0, 0, 0, 0, 0, 0, 0, 0],
];
const pong = [
  [-2.1, -1.5, 0.5, 1.7, 1.9, 2.0, 2.0, 2.0, 2.0, 2.0, 2.0],
  [-2.1, -1.0, 1.5, 2.1, 2.1, 2.1, 2.1, 2.1, 2.1, 2.1, 2.1],
  [-2.1, -1.3, 1.0, 2.0, 2.1, 2.1, 2.1, 2.1, 2.1, 2.1, 2.1],
  [-2.1, -1.0, 1.5, 2.1, 2.1, 2.1, 2.1, 2.1, 2.1, 2.1, 2.1],
  [-2.1, -1.5, 1.0, 2.0, 2.1, 2.1, 2.1, 2.1, 2.1, 2.1, 2.1],
  [-2.1, -0.8, 1.6, 2.1, 2.1, 2.1, 2.1, 2.1, 2.1, 2.1, 2.1],
  [-2.1, -1.0, 1.5, 2.1, 2.1, 2.1, 2.1, 2.1, 2.1, 2.1, 2.1],
  [-2.1, -0.5, 1.5, 2.1, 2.1, 2.1, 2.1, 2.1, 2.1, 2.1, 2.1],
];
const private_eye = [
  [0, 0.05, 0.05, 0.05, 0.05, 0.05, 0.0, 0.05, 0.0, 0.0, 0.05],
  [0.1, 0.1, 0.1, 0.1, 0.1, 0.1, 0.1, 0.1, 0.1, 0.1, 0.1],
  [2.0, 0.1, 0.1, 0.15, 0.15, 0.15, 0.15, 0.12, 0.12, 0.12, 0.12],
  [0.1, 0.1, 0.1, 0.1, 0.1, 0.1, 0.1, 0.1, 0.1, 0.1, 0.1],
  [-0.8, 0.1, 0.1, 0.1, 0.1, 0.1, 0.1, 0.1, 0.1, 0.1, 0.1],
  [0.1, 0.1, 0.1, 0.12, 0.15, 0.18, 0.2, 0.18, 0.15, 0.18, 0.2],
  [0.1, 0.1, 0.1, 0.1, 0.1, 0.1, 0.1, 0.1, 0.1, 0.1, 0.1],
  [0.1, 0.1, 0.4, 0.1, 0.1, 0.1, 0.1, 0.1, 0.1, 0.1, 0.1],
];
const qbert = [
  [0, 0.1, 0.2, 0.3, 0.4, 0.5, 0.6, 0.7, 0.9, 1.0, 0.95],
  [0, 1.5, 2.4, 2.4, 2.3, 2.3, 2.3, 2.3, 2.5, 2.9, 3.2],
  [0, 0.5, 1.0, 1.5, 2.0, 2.2, 2.3, 2.4, 2.5, 2.6, 2.5],
  [0, 0.8, 1.5, 2.2, 2.3, 2.3, 2.4, 2.4, 2.5, 2.8, 2.6],
  [0, 0.3, 0.8, 1.2, 1.8, 2.2, 2.4, 2.4, 2.5, 2.5, 2.4],
  [0, 0.8, 1.5, 1.8, 2.0, 2.2, 2.3, 2.3, 2.3, 2.3, 2.2],
  [0, 1.0, 2.0, 2.3, 2.3, 2.3, 2.2, 2.2, 2.3, 2.2, 2.2],
  [0, 1.5, 2.4, 2.3, 2.3, 2.2, 2.2, 2.2, 2.3, 3.0, 3.1],
];
const riverraid = [
  [0.2, 0.4, 0.5, 0.52, 0.5, 0.45, 0.35, 0.25, 0.15, 0.1, 0.1],
  [0.2, 0.7, 1.2, 1.6, 1.9, 2.1, 2.3, 2.5, 2.6, 2.7, 2.9],
  [0.2, 0.6, 1.1, 1.5, 1.8, 1.9, 1.95, 2.0, 2.05, 2.1, 2.1],
  [0.2, 0.6, 1.1, 1.5, 1.8, 1.9, 2.0, 2.0, 2.1, 2.2, 2.3],
  [0.2, 0.4, 0.7, 0.9, 1.0, 1.3, 1.5, 1.7, 1.85, 1.95, 2.05],
  [0.2, 0.6, 1.0, 1.4, 1.7, 1.85, 1.95, 2.0, 2.0, 2.05, 2.2],
  [0.2, 0.5, 0.9, 1.3, 1.6, 1.9, 2.1, 2.3, 2.4, 2.5, 2.55],
  [0.2, 0.7, 1.2, 1.5, 1.7, 1.85, 1.95, 2.0, 2.05, 2.1, 2.2],
];
const road_runner = [
  [0, 1.5, 2.4, 2.5, 2.6, 2.7, 2.7, 2.8, 2.8, 2.8, 2.6],
  [0, 3.5, 4.5, 5.0, 5.3, 5.5, 5.3, 5.4, 5.5, 5.6, 5.8],
  [0, 2.5, 3.5, 3.8, 4.2, 4.8, 5.5, 6.5, 7.0, 7.0, 7.3],
  [0, 3.5, 4.5, 5.0, 5.3, 5.3, 5.3, 5.4, 5.5, 5.5, 5.6],
  [0, 3.0, 4.5, 5.0, 5.5, 5.8, 6.0, 6.0, 6.0, 6.0, 6.1],
  [0, 3.8, 4.5, 5.0, 5.5, 5.7, 5.8, 5.9, 5.9, 5.9, 5.9],
  [0, 4.0, 5.0, 5.5, 6.0, 6.5, 6.8, 7.0, 7.0, 7.1, 7.3],
  [0, 2.0, 4.5, 4.8, 5.0, 5.2, 5.3, 5.8, 6.1, 6.2, 6.4],
];
const robotank = [
  [0.2, 1.0, 1.8, 2.3, 2.6, 2.9, 3.3, 3.8, 4.3, 4.7, 5.0],
  [0.2, 3.8, 4.9, 5.5, 5.7, 5.8, 5.9, 6.0, 6.0, 6.1, 6.5],
  [0.2, 1.5, 2.8, 3.2, 3.3, 3.4, 3.6, 4.2, 4.8, 5.2, 5.5],
  [0.2, 3.0, 4.5, 5.2, 5.5, 5.6, 5.7, 5.8, 5.8, 5.9, 6.0],
  [0.2, 1.0, 1.8, 2.2, 2.5, 3.0, 3.8, 4.5, 5.0, 5.3, 5.5],
  [0.2, 3.5, 4.8, 5.3, 5.5, 5.6, 5.6, 5.7, 5.7, 5.8, 5.8],
  [0.2, 3.5, 4.8, 5.3, 5.5, 5.6, 5.7, 5.8, 5.8, 5.9, 6.0],
  [0.2, 3.8, 4.8, 5.3, 5.6, 5.8, 5.9, 5.9, 6.0, 6.0, 6.1],
];
const seaquest = [
  [0, 0.01, 0.01, 0.01, 0.01, 0.01, 0.01, 0.01, 0.01, 0.01, 0.01],
  [0, 0.02, 0.05, 0.1, 0.15, 0.25, 0.35, 0.5, 0.75, 1.0, 1.4],
  [0, 0.02, 0.05, 0.07, 0.08, 0.1, 0.12, 0.14, 0.16, 0.18, 0.2],
  [0, 0.02, 0.04, 0.08, 0.12, 0.2, 0.3, 0.45, 0.75, 1.2, 1.9],
  [0, 0.01, 0.01, 0.02, 0.02, 0.03, 0.05, 0.07, 0.1, 0.2, 0.45],
  [0, 0.01, 0.01, 0.02, 0.03, 0.05, 0.07, 0.09, 0.12, 0.15, 0.2],
  [0, 0.01, 0.01, 0.02, 0.02, 0.03, 0.05, 0.07, 0.1, 0.12, 0.15],
  [0, 0, 0.01, 0.01, 0.01, 0.02, 0.03, 0.04, 0.06, 0.1, 0.13],
];
const skiing = [
  [-2.8, -2.6, -2.5, -2.6, -2.5, -2.6, -2.6, -2.6, -2.6, -2.4, -2.5],
  [-1.7, -1.7, -1.65, -1.6, -1.6, -1.5, -1.5, -1.5, -1.5, -1.5, -1.5],
  [-3.0, -1.8, -2.0, -1.6, -1.6, -1.7, -1.7, -1.7, -1.8, -1.7, -1.6],
  [-2.8, -1.7, -1.6, -1.6, -1.55, -1.55, -1.5, -1.55, -1.55, -1.6, -1.6],
  [-2.8, -1.8, -1.7, -1.6, -1.6, -1.6, -1.6, -1.6, -1.55, -1.5, -1.5],
  [-2.5, -2.2, -2.5, -2.0, -1.2, -0.9, -0.85, -0.85, -0.9, -0.9, -0.9],
  [-2.0, -1.8, -1.7, -1.6, -1.6, -1.6, -1.55, -1.55, -1.55, -1.55, -1.6],
  [-2.2, -1.7, -1.6, -1.55, -1.55, -1.5, -1.5, -1.5, -1.5, -1.45, -1.5],
];
const solaris = [
  [0.6, 0.8, 0.9, 0.9, 0.8, 0.7, 0.8, 0.9, 0.9, 1.0, 1.0],
  [3.4, 2.0, 1.9, 2.0, 2.2, 2.0, 2.2, 2.4, 2.0, 1.9, 2.2],
  [2.2, 1.5, 1.2, 1.0, 0.9, 1.0, 1.1, 1.3, 1.3, 1.4, 1.5],
  [1.8, 1.5, 2.0, 2.5, 3.0, 2.3, 3.5, 2.8, 3.0, 3.7, 2.8],
  [1.6, 1.3, 1.0, 1.2, 1.1, 0.8, 0.7, 1.0, 1.1, 0.9, 1.0],
  [1.8, 1.6, 1.5, 1.7, 1.8, 1.8, 1.7, 2.0, 2.2, 1.8, 2.0],
  [0.8, 1.2, 1.5, 2.0, 2.3, 2.0, 2.4, 2.4, 2.0, 2.3, 2.2],
  [2.0, 1.8, 2.8, 2.4, 2.5, 2.3, 2.5, 2.3, 2.4, 2.1, 2.0],
];
const space_invaders = [
  [0, 0.02, 0.03, 0.04, 0.05, 0.05, 0.05, 0.05, 0.05, 0.05, 0.05],
  [0, 0.08, 0.15, 0.2, 0.25, 0.4, 0.6, 0.8, 1.2, 1.5, 1.7],
  [0, 0.07, 0.12, 0.16, 0.2, 0.3, 0.4, 0.6, 0.9, 1.1, 1.2],
  [0, 0.08, 0.15, 0.2, 0.3, 0.5, 0.8, 1.0, 1.3, 1.3, 1.2],
  [0, 0.05, 0.08, 0.1, 0.12, 0.15, 0.2, 0.25, 0.3, 0.4, 0.8],
  [0, 0.05, 0.08, 0.1, 0.12, 0.15, 0.2, 0.25, 0.35, 0.45, 0.55],
  [0, 0.05, 0.08, 0.1, 0.12, 0.15, 0.18, 0.2, 0.22, 0.25, 0.25],
  [0, 0.08, 0.15, 0.2, 0.35, 0.8, 1.6, 1.5, 2.0, 1.9, 2.1],
];
const star_gunner = [
  [0, 0, 0.05, 0.1, 0.15, 0.2, 0.22, 0.22, 0.23, 0.24, 0.26],
  [0, 0.2, 0.5, 0.55, 0.6, 0.65, 0.7, 0.8, 0.9, 1.0, 1.2],
  [0, 0, 0, 0.05, 0.15, 0.3, 0.4, 0.45, 0.5, 0.55, 0.62],
  [0, 0.2, 0.5, 0.57, 0.62, 0.68, 0.75, 0.8, 0.9, 0.95, 1.1],
  [0, 0, 0.05, 0.2, 0.35, 0.4, 0.45, 0.48, 0.5, 0.55, 0.68],
  [0, 0.2, 0.45, 0.5, 0.52, 0.55, 0.6, 0.65, 0.7, 0.78, 0.82],
  [0, 0.2, 0.42, 0.48, 0.5, 0.52, 0.55, 0.6, 0.65, 0.72, 0.78],
  [0, 0.2, 0.55, 0.62, 0.68, 0.75, 0.85, 0.95, 1.08, 1.2, 1.3],
];
const surround = [
  [-1.0, -1.0, -0.95, -0.9, -0.9, -0.88, -0.87, -0.85, -0.85, -0.83, -0.8],
  [-1.0, 0.0, 0.5, 0.7, 0.85, 0.9, 0.95, 0.95, 0.95, 0.95, 0.95],
  [-1.0, -0.8, -0.5, -0.2, 0.1, 0.4, 0.6, 0.7, 0.75, 0.8, 0.85],
  [-1.0, -0.2, 0.2, 0.4, 0.5, 0.7, 0.85, 0.9, 0.9, 0.9, 0.9],
  [-1.0, -0.7, -0.2, 0.2, 0.4, 0.55, 0.65, 0.7, 0.75, 0.75, 0.8],
  [-1.0, -0.3, 0.1, 0.3, 0.4, 0.5, 0.6, 0.65, 0.7, 0.75, 0.8],
  [-1.0, -0.3, 0.5, 0.7, 0.8, 0.85, 0.9, 0.9, 0.9, 0.9, 0.9],
  [-1.0, -0.5, 0.3, 0.8, 0.9, 0.9, 0.9, 0.95, 0.95, 0.95, 0.95],
];
const tennis = [
  [-2.0, -1.0, -0.3, -0.5, -0.6, -0.5, -0.4, -0.8, -0.9, -1.1, -0.5],
  [-2.4, -0.5, 0, 0, 0, 0, 0, 0, 0, 0, 0],
  [-2.4, -1.5, 0, 0, 0, 0, 0, 0, 0, 0, 0],
  [-2.4, -1.0, 0, 0, 0, 0, 0, 0, 0, 0, 0],
  [-2.4, -2.4, -0.5, 0, 0, 0, 0, 0, 0, 0, 0],
  [-2.4, -0.1, -0.05, -0.05, -0.05, -0.08, -0.05, -0.1, -0.1, -0.1, -0.1],
  [-2.4, -0.5, 0, 0, 0, 0, 0, 0, 0, 0, 0],
  [-2.4, -2.4, 0, 0, 0, 0, 0, 0, 0, 0, 0],
];
const time_pilot = [
  [0.1, 0.15, 0.15, 0.18, 0.2, 0.22, 0.25, 0.28, 0.3, 0.32, 0.38],
  [0.3, 0.4, 0.7, 0.95, 1.1, 1.25, 1.35, 1.4, 1.45, 1.55, 1.7],
  [0.2, 0.2, 0.3, 0.4, 0.5, 0.6, 0.7, 0.8, 0.9, 1.0, 1.05],
  [0.25, 0.3, 0.4, 0.6, 0.8, 1.0, 1.2, 1.3, 1.35, 1.4, 1.5],
  [0.25, 0.2, 0.35, 0.45, 0.5, 0.5, 0.45, 0.55, 0.6, 0.7, 0.8],
  [0.3, 0.5, 0.8, 1.0, 1.1, 1.2, 1.25, 1.3, 1.4, 1.45, 1.55],
  [0.3, 0.5, 0.8, 1.0, 1.15, 1.2, 1.15, 1.25, 1.35, 1.45, 1.55],
  [0.2, 0.35, 0.7, 1.0, 1.2, 1.35, 1.45, 1.5, 1.55, 1.6, 1.75],
];
const tutankham = [
  [100, 90, 85, 110, 100, 110, 120, 120, 90, 100, 100],
  [100, 120, 140, 150, 160, 170, 190, 200, 220, 240, 250],
  [90, 110, 130, 140, 150, 160, 170, 180, 200, 210, 220],
  [100, 140, 145, 145, 145, 145, 145, 145, 95, 145, 145],
  [100, 110, 120, 125, 125, 125, 125, 125, 140, 170, 240],
  [100, 130, 150, 200, 230, 250, 280, 280, 270, 270, 310],
  [100, 180, 220, 240, 250, 250, 250, 250, 260, 260, 260],
  [0, 110, 150, 180, 180, 215, 220, 225, 230, 235, 245],
];
const up_n_down = [
  [0, 0.05, 0.07, 0.08, 0.08, 0.08, 0.08, 0.08, 0.08, 0.08, 0.08],
  [0, 0.3, 0.55, 0.55, 0.5, 0.55, 0.6, 0.7, 0.8, 1.0, 1.3],
  [0, 0.08, 0.1, 0.12, 0.12, 0.12, 0.12, 0.12, 0.12, 0.12, 0.12],
  [0, 0.3, 0.55, 0.6, 0.7, 0.8, 0.9, 1.0, 1.1, 1.2, 1.6],
  [0, 0.1, 0.12, 0.14, 0.15, 0.15, 0.15, 0.15, 0.15, 0.15, 0.15],
  [0, 0.1, 0.2, 0.3, 0.35, 0.4, 0.45, 0.5, 0.55, 0.55, 0.48],
  [0, 0.05, 0.1, 0.15, 0.2, 0.25, 0.3, 0.4, 0.55, 0.65, 0.75],
  [0, 0.05, 0.2, 0.3, 0.38, 0.45, 0.55, 0.62, 0.75, 0.95, 1.0],
];
const venture = [
  [0, 0, 0, 0, 0, 0, 0, 0, 0.02, 0.05, 0.1],
  [0, 0, 0, 0, 0, 0, 0, 0, 0, 0, 0],
  [0, 0, 0, 0, 0, 0, 0, 0, 0, 0, 0],
  [0, 0.3, 1.2, 1.3, 1.1, 1.0, 1.25, 1.2, 1.2, 1.1, 1.3],
  [0, 0, 0, 0, 0, 0, 0, 0, 0, 0, 0],
  [0, 0.02, 0.05, 0.03, 0.05, 0.03, 0.05, 0.1, 0.25, 0.05, 0.1],
  [0, 0.5, 1.1, 1.0, 0.9, 0.95, 0.7, 0.7, 0.8, 0.65, 1.0],
  [0, 0, 0, 0, 0, 0, 0, 0, 0, 0, 0],
];
const video_pinball = [
  [0.2, 0.2, 0.3, 0.4, 0.5, 0.6, 0.8, 1.0, 0.8, 1.0, 0.6],
  [0.2, 0.4, 1.0, 2.5, 4.0, 5.0, 5.5, 5.5, 5.5, 5.5, 5.5],
  [0.2, 0.2, 0.4, 0.8, 1.5, 2.5, 3.5, 4.5, 5.0, 5.0, 5.0],
  [0.2, 0.2, 0.3, 0.5, 0.8, 1.3, 2.0, 3.5, 4.5, 4.5, 3.5],
  [0.2, 0.3, 0.6, 1.2, 2.5, 3.8, 5.0, 5.2, 5.5, 5.5, 5.5],
  [0.2, 0.3, 0.8, 2.0, 3.0, 3.5, 1.0, 1.2, 1.0, 4.5, 5.5],
  [0.2, 0.4, 1.2, 3.0, 4.5, 5.2, 5.5, 5.5, 5.5, 5.6, 5.7],
  [0.2, 0.3, 0.8, 2.0, 3.5, 4.5, 5.5, 5.5, 5.5, 5.5, 5.6],
];
const wizard_of_wor = [
  [0, 0.1, 0.15, 0.18, 0.15, 0.12, 0.08, 0.05, 0.05, 0.04, 0.04],
  [0, 0.5, 0.9, 1.2, 1.4, 1.5, 1.6, 1.7, 1.7, 1.8, 1.8],
  [0, 0.2, 0.3, 0.4, 0.6, 0.9, 1.0, 1.1, 1.2, 1.3, 1.35],
  [0, 0.4, 0.8, 1.0, 1.2, 1.3, 1.4, 1.45, 1.5, 1.6, 1.7],
  [0, 0.2, 0.4, 0.6, 0.7, 0.8, 0.9, 1.0, 1.1, 1.25, 1.35],
  [0, 0.4, 0.7, 0.8, 0.8, 0.75, 0.7, 0.68, 0.7, 0.7, 0.65],
  [0, 0.5, 0.8, 0.95, 1.0, 1.0, 1.05, 1.1, 1.2, 1.3, 1.5],
  [0, 0.6, 1.2, 1.4, 1.4, 1.4, 1.45, 1.4, 1.4, 1.45, 1.5],
];
const yars_revenge = [
  [0.1, 0.1, 0.1, 0.1, 0.1, 0.1, 0.1, 0.12, 0.13, 0.15, 0.15],
  [0.08, 0.1, 0.15, 0.4, 0.55, 0.62, 0.68, 0.72, 0.76, 0.8, 1.15],
  [0.1, 0.1, 0.1, 0.1, 0.1, 0.1, 0.1, 0.4, 0.5, 0.55, 0.6],
  [0.05, 0.1, 0.2, 0.5, 0.6, 0.65, 0.7, 0.74, 0.77, 0.8, 0.85],
  [0.05, 0.08, 0.1, 0.1, 0.1, 0.1, 0.1, 0.1, 0.1, 0.3, 0.55],
  [0.05, 0.1, 0.2, 0.4, 0.55, 0.65, 0.7, 0.72, 0.75, 0.78, 0.8],
  [0.05, 0.1, 0.15, 0.35, 0.5, 0.55, 0.6, 0.63, 0.67, 0.7, 0.73],
  [0.05, 0.1, 0.1, 0.5, 0.6, 0.65, 0.7, 0.75, 0.78, 0.82, 1.0],
];
const zaxxon = [
  [0, 0.1, 0.15, 0.2, 0.2, 0.2, 0.2, 0.2, 0.2, 0.2, 0.15],
  [0, 0.8, 1.4, 1.7, 1.8, 1.9, 1.8, 1.7, 1.7, 1.8, 1.6],
  [0, 0.3, 0.6, 0.9, 1.2, 1.4, 1.5, 1.6, 1.6, 1.7, 1.6],
  [0, 0.7, 1.3, 1.6, 1.8, 2.0, 2.0, 2.2, 2.2, 2.3, 2.2],
  [0, 0.5, 0.8, 1.0, 1.2, 1.5, 1.8, 1.9, 2.0, 1.9, 1.8],
  [0, 0.5, 0.8, 1.1, 1.2, 1.3, 1.25, 1.25, 1.2, 1.3, 1.2],
  [0, 0.9, 1.5, 1.8, 1.8, 1.8, 1.75, 1.7, 1.7, 1.7, 1.7],
  [0, 1.0, 1.7, 1.9, 2.0, 2.0, 1.9, 2.1, 1.8, 1.9, 1.8],
];

// [title, data, yMin, yMax, yInterval, scale label]
const GAMES: [string, number[][], number, number, number, string][] = [
  ['alien', alien, 0, 1.5, 0.5, '1e4'],
  ['amidar', amidar, 0, 6, 2, '1e3'],
  ['assault', assault, 0, 2, 0.5, '1e4'],
  ['asterix', asterix, 0, 6, 2, '1e5'],
  ['asteroids', asteroids, 0, 8, 2, '1e3'],
  ['atlantis', atlantis, 0, 1.5, 0.5, '1e6'],
  ['bank_heist', bank_heist, 0, 2, 0.5, '1e3'],
  ['battle_zone', battle_zone, 0, 8, 2, '1e4'],
  ['beam_rider', beam_rider, 0, 3, 1, '1e4'],
  ['berzerk', berzerk, 0, 6, 2, '1e3'],
  ['bowling', bowling, 0, 100, 50, ''],
  ['boxing', boxing, -50, 100, 50, ''],
  ['breakout', breakout, 0, 600, 200, ''],
  ['centipede', centipede, 0, 1, 0.5, '1e4'],
  ['chopper_command', chopper_command, 0, 2, 0.5, '1e4'],
  ['crazy_climber', crazy_climber, 0, 3, 1, '1e5'],
  ['defender', defender, 0, 3, 1, '1e5'],
  ['demon_attack', demon_attack, 0, 1.5, 0.5, '1e5'],
  ['double_dunk', double_dunk, -4, 2, 2, '1e1'],
  ['enduro', enduro, 0, 3, 1, '1e3'],
  ['fishing_derby', fishing_derby, -100, 100, 50, ''],
  ['freeway', freeway, 0, 4, 1, '1e1'],
  ['frostbite', frostbite, 0, 1, 0.5, '1e4'],
  ['gopher', gopher, 0, 8, 2, '1e4'],
  ['gravitar', gravitar, 0, 3, 1, '1e3'],
  ['hero', hero, 0, 6, 2, '1e4'],
  ['ice_hockey', ice_hockey, -2, 1, 1, '1e1'],
  ['jamesbond', jamesbond, 0, 3, 1, '1e4'],
  ['kangaroo', kangaroo, 0, 1.5, 0.5, '1e4'],
  ['krull', krull, 0, 1.5, 0.5, '1e4'],
  ['kung_fu_master', kung_fu_master, 0, 6, 2, '1e4'],
  ['montezuma_revenge', montezuma_revenge, 0, 600, 200, ''],
  ['ms_pacman', ms_pacman, 0, 6, 2, '1e3'],
  ['name_this_game', name_this_game, 0, 2, 0.5, '1e4'],
  ['phoenix', phoenix, 0, 4, 1, '1e5'],
  ['pitfall', pitfall, -1.5, 0, 0.5, '1e3'],
  ['pong', pong, -4, 4, 2, '1e1'],
  ['private_eye', private_eye, -1, 2, 1, '1e3'],
  ['qbert', qbert, 0, 4, 1, '1e4'],
  ['riverraid', riverraid, 0, 3, 1, '1e4'],
  ['road_runner', road_runner, 0, 8, 2, '1e4'],
  ['robotank', robotank, 0, 8, 2, '1e1'],
  ['seaquest', seaquest, 0, 3, 1, '1e5'],
  ['skiing', skiing, -4, 0, 1, '1e4'],
  ['solaris', solaris, 0, 4, 1, '1e3'],
  ['space_invaders', space_invaders, 0, 3, 1, '1e4'],
  ['star_gunner', star_gunner, 0, 1.5, 0.5, '1e5'],
  ['surround', surround, -1, 1, 0.5, '1e1'],
  ['tennis', tennis, -3, 1, 1, '1e1'],
  ['time_pilot', time_pilot, 0, 2, 0.5, '1e4'],
  ['tutankham', tutankham, 0, 400, 100, ''],
  ['up_n_down', up_n_down, 0, 2, 0.5, '1e5'],
  ['venture', venture, 0, 1.5, 0.5, '1e3'],
  ['video_pinball', video_pinball, 0, 8, 2, '1e5'],
  ['wizard_of_wor', wizard_of_wor, 0, 2, 0.5, '1e4'],
  ['yars_revenge', yars_revenge, 0, 1.5, 0.5, '1e5'],
  ['zaxxon', zaxxon, 0, 3, 1, '1e4'],
];
const X_TICKS_SHOWN = ['yars_revenge', 'zaxxon', 'venture', 'video_pinball', 'wizard_of_wor'];

function fmt(v: number, iv: number): string {
  const s = iv < 1 ? v.toFixed(1) : String(Math.round(v));
  return s.replace('-', '\u2212');
}

export default function App() {
  const ref = useRef<HTMLDivElement>(null);
  useEffect(() => {
    const chart = echarts.init(ref.current!, null, { renderer: 'svg' });
    const grid: any[] = [];
    const xBottom: any[] = [];
    const xTop: any[] = [];
    const yLeft: any[] = [];
    const yRight: any[] = [];
    const series: any[] = [];
    const graphic: any[] = [];
    const axisLine = { show: true, lineStyle: { color: '#000', width: 0.8 } };
    const tick = { show: true, inside: true, length: 4, lineStyle: { color: '#000', width: 0.8 } };
    GAMES.forEach(([name, data, mn, mx, iv, ex], i) => {
      const r = Math.floor(i / 5), c = i % 5;
      const left = 33 + 172 * c, top = 13 + 96 * r;
      grid.push({ left, top, width: 142, height: 78, containLabel: false });
      xBottom.push({
        type: 'value', gridIndex: i, min: 0, max: 200, interval: 50, position: 'bottom',
        axisLine, axisTick: tick, splitLine: { show: false },
        axisLabel: { show: X_TICKS_SHOWN.includes(name), fontSize: 10, fontFamily: FONT, color: '#000', margin: 4 },
      });
      xTop.push({
        type: 'value', gridIndex: i, min: 0, max: 200, interval: 50, position: 'top',
        axisLine, axisTick: tick, splitLine: { show: false }, axisLabel: { show: false },
      });
      yLeft.push({
        type: 'value', gridIndex: i, min: mn, max: mx, interval: iv, position: 'left',
        axisLine, axisTick: tick, splitLine: { show: false },
        axisLabel: { fontSize: 10, fontFamily: FONT, color: '#000', margin: 5, formatter: (v: number) => fmt(v, iv) },
        name: ex, nameLocation: 'end', nameGap: 1,
        nameTextStyle: { align: 'left', verticalAlign: 'bottom', fontSize: 9.5, fontFamily: FONT, color: '#000' },
      });
      yRight.push({
        type: 'value', gridIndex: i, min: mn, max: mx, interval: iv, position: 'right',
        axisLine, axisTick: tick, splitLine: { show: false }, axisLabel: { show: false },
      });
      graphic.push({
        type: 'text', x: left + 72, y: top - 1,
        style: { text: name, align: 'center', verticalAlign: 'bottom', fontSize: 11, fontFamily: FONT, fill: '#000' },
      });
      data.forEach((vals, j) => {
        series.push({
          type: 'line', name: SERIES[j], xAxisIndex: i, yAxisIndex: i,
          data: X.map((x, k) => [x, vals[k]]),
          symbol: 'none', showSymbol: false, silent: true,
          lineStyle: {
            color: COLORS[j],
            width: j === 7 ? 2.2 : j === 0 ? 1.3 : 1,
            type: j === 0 || j === 7 ? 'solid' : [4, 2],
          },
          itemStyle: { color: COLORS[j] },
        });
      });
    });
    // legend
    const legendCols = [
      { x: 409, tx: 435, items: [0, 1, 2, 3] },
      { x: 578, tx: 606, items: [4, 5, 6, 7] },
    ];
    legendCols.forEach((col) => {
      col.items.forEach((j, k) => {
        const cy = 1088 + 14.5 * k;
        graphic.push({ type: 'rect', shape: { x: col.x, y: cy - 5, width: 19, height: 10 }, style: { fill: COLORS[j] } });
        graphic.push({
          type: 'text', x: col.tx, y: cy,
          style: { text: SERIES[j], align: 'left', verticalAlign: 'middle', fontSize: 10, fontFamily: FONT, fill: '#000' },
        });
      });
    });
    chart.setOption({
      animation: false,
      backgroundColor: '#fff',
      textStyle: { fontFamily: FONT },
      grid,
      xAxis: [...xBottom, ...xTop],
      yAxis: [...yLeft, ...yRight],
      series,
      graphic,
    });
    return () => chart.dispose();
  }, []);
  return <div ref={ref} style={{ position: 'absolute', left: 0, top: 0, width: 872, height: 1163, background: '#fff' }} />;
}
